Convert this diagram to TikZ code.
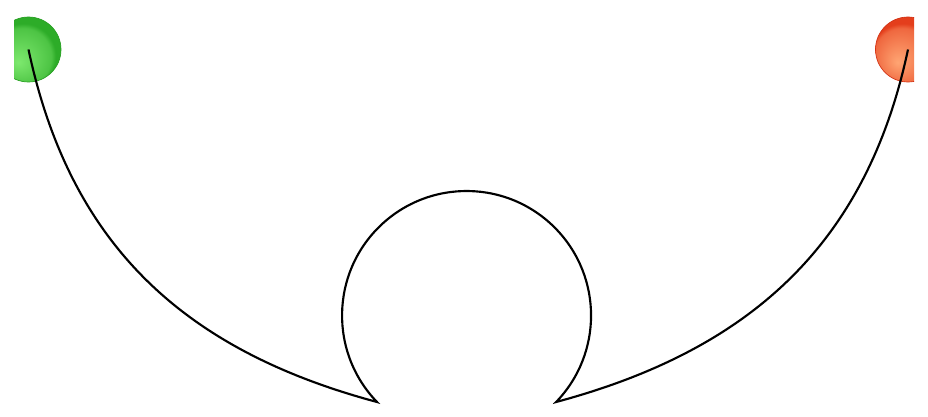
\documentclass[tikz,border=0pt]{standalone}
\usetikzlibrary{positioning}
\definecolor{greenhi}{RGB}{125,232,110}
\definecolor{greenlo}{RGB}{45,172,40}
\definecolor{redhi}{RGB}{255,165,115}
\definecolor{redlo}{RGB}{228,62,28}
\pgfdeclareradialshading{greenball}{\pgfpoint{-8bp}{-10bp}}{color(0bp)=(greenhi); color(22bp)=(greenhi!40!greenlo); color(25bp)=(greenlo); color(50bp)=(greenlo)}
\pgfdeclareradialshading{redball}{\pgfpoint{-8bp}{-10bp}}{color(0bp)=(redhi); color(22bp)=(redhi!40!redlo); color(25bp)=(redlo); color(50bp)=(redlo)}
\tikzset{every picture/.style={line width=0.75pt}}
\tikzset{
  ball/.style={circle, minimum size=48.75pt, inner sep=0pt, line width=0.5pt},
  wire/.style={draw={rgb, 255:red, 0; green, 0; blue, 0 }, line width=1.6pt}
}
\begin{document}
\begin{tikzpicture}[x=0.75pt,y=0.75pt,yscale=-1,xscale=1]
\useasboundingbox (0,0) rectangle (928,417);

\begin{scope}
\clip (14,0) rectangle (914,417);
%Shape: Circle [start]
\node [ball, draw={rgb, 255:red, 40; green, 160; blue, 35 }, shading=greenball] (green) at (28.5,49.5) {};
%Shape: Circle [end]
\node [ball, draw={rgb, 255:red, 210; green, 50; blue, 20 }, shading=redball] (red) at (908,49.5) {};
\end{scope}

%Curve Lines
\draw [wire] (green.center) .. controls (70.1,245.1) and (183.8,350.2) .. (377,402)
  arc [start angle=136, end angle=404, radius=124.5]
  .. controls (749.3,350.2) and (866.4,245.1) .. (red.center) ;

\end{tikzpicture}
\end{document}
